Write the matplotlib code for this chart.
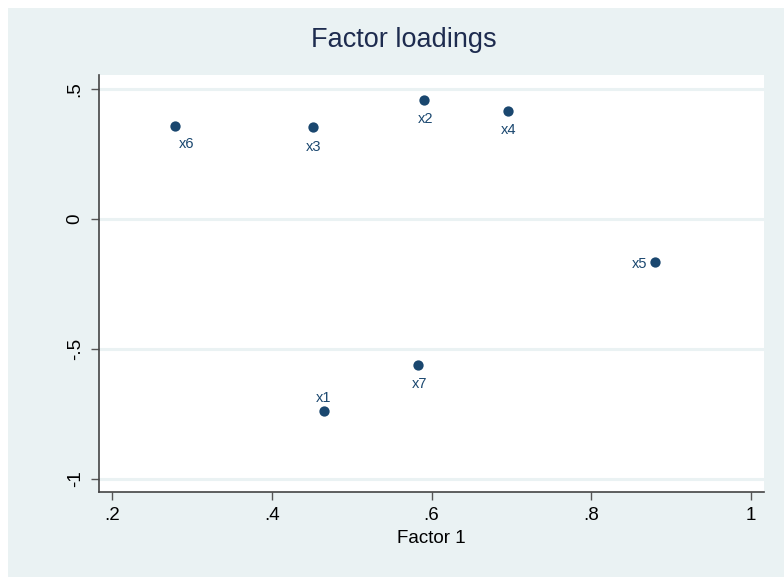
import matplotlib.pyplot as plt
from matplotlib.patches import Rectangle

# loadings
names = ['x1', 'x2', 'x3', 'x4', 'x5', 'x6', 'x7']
factor1 = [0.465, 0.591, 0.452, 0.696, 0.880, 0.279, 0.583]
factor2 = [-0.740, 0.458, 0.353, 0.415, -0.166, 0.357, -0.563]
# label position (Stata clock style) as offsets in pixels
label_off = {'x1': (0, 13), 'x2': (1, -19), 'x3': (0, -20), 'x4': (0, -19),
             'x5': (-8, -2), 'x6': (4, -18), 'x7': (2, -19)}

xticks = [0.2, 0.4, 0.6, 0.8, 1.0]
xlabels = ['.2', '.4', '.6', '.8', '1']
yticks = [-1, -0.5, 0, 0.5]
ylabels = ['-1', '-.5', '0', '.5']

bg = '#EAF2F3'
navy = '#1A476F'

plt.rcParams['font.family'] = ['Liberation Sans', 'DejaVu Sans']

fig = plt.figure(figsize=(7.84, 5.78), dpi=100)
fig.patch.set_facecolor('white')
fig.patches.append(Rectangle((8/784, 1/578), 1, 1 - 9/578, transform=fig.transFigure,
                             facecolor=bg, edgecolor='none', zorder=-10))

W, H = 784, 578
ax = fig.add_axes([99/W, (H-492)/H, (764-99)/W, (492-75)/H])
ax.set_facecolor('white')

for y in yticks:
    ax.axhline(y, color=bg, lw=2.2, zorder=1)

ax.scatter(factor1, factor2, s=55, color=navy, zorder=3, linewidths=0)
for n, x, y in zip(names, factor1, factor2):
    dx, dy = label_off[n]
    ha = 'right' if dx < -5 else ('left' if dx > 3 else 'center')
    ax.annotate(n, (x, y), xytext=(dx*0.72, dy*0.72), textcoords='offset points',
                ha=ha, va='center', fontsize=10.5, color=navy)

ax.set_xlim(0.1837, 1.016)
ax.set_ylim(-1.05, 0.554)
ax.set_xticks(xticks)
ax.set_xticklabels(xlabels)
ax.set_yticks(yticks)
ax.set_yticklabels(ylabels, rotation=90, va='center')
ax.tick_params(axis='both', length=6, width=1, color='#555555', labelsize=13.5,
               labelcolor='black', pad=5)

for s in ['top', 'right']:
    ax.spines[s].set_visible(False)
for s in ['left', 'bottom']:
    ax.spines[s].set_color('#444444')
    ax.spines[s].set_linewidth(1.2)

ax.set_xlabel('Factor 1', fontsize=13.5, labelpad=4)
fig.text(404/W, 1 - 40/H, 'Factor loadings', ha='center', va='center',
         fontsize=19.5, color='#1E2C4F')

plt.savefig('out.png', dpi=100)
